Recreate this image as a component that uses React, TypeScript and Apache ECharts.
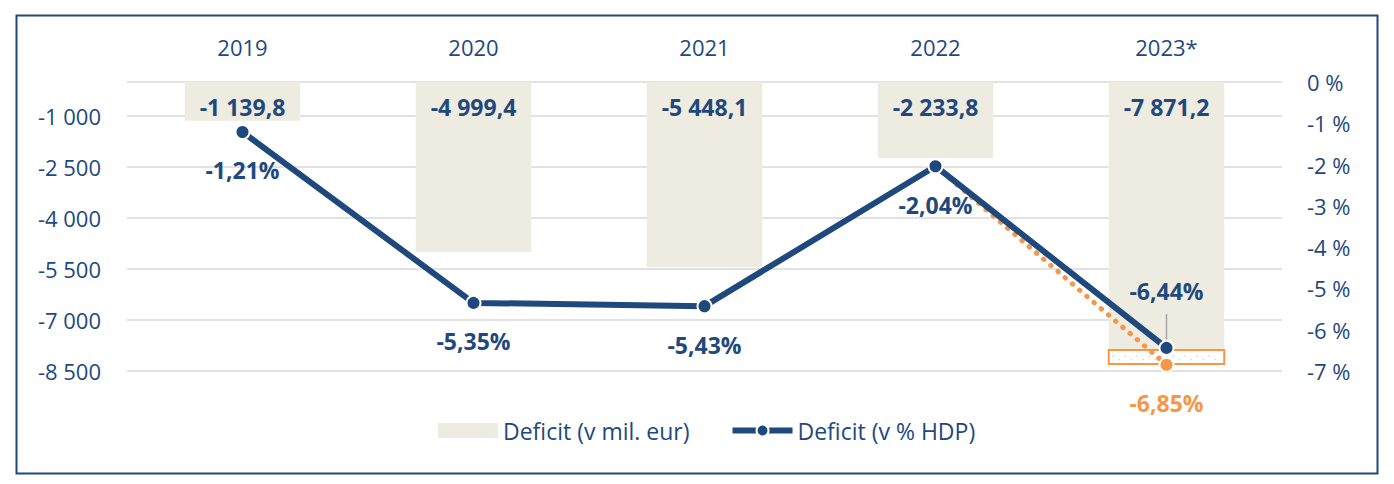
import React, { useEffect, useRef } from 'react';
import * as echarts from 'echarts';

const years = ['2019', '2020', '2021', '2022', '2023*'];
const deficitMil = [-1139.8, -4999.4, -5448.1, -2233.8, -7871.2];
const deficitPct = [-1.21, -5.35, -5.43, -2.04, -6.44];
const estimatePct: (number | null)[] = [null, null, null, -2.04, -6.85];
const leftTicks = [-8500, -7000, -5500, -4000, -2500, -1000, 0];
const leftLabelTicks = [-8500, -7000, -5500, -4000, -2500, -1000];
const highlightRange = [-6.49, -6.83];

const BLUE = '#1F497D';
const BEIGE = '#EEECE1';
const ORANGE = '#F79646';
const GRID = '#D9D9D9';
const FONT = "'Open Sans', 'Noto Sans', sans-serif";

function fmt(v: number, dec: number): string {
  const neg = v < 0 && Math.abs(v) > 1e-9;
  const s = Math.abs(v).toFixed(dec);
  const [i, d] = s.split('.');
  const ig = i.replace(/\B(?=(\d{3})+(?!\d))/g, ' ');
  return (neg ? '-' : '') + ig + (d ? ',' + d : '');
}

export default function App() {
  const ref = useRef<HTMLDivElement>(null);
  useEffect(() => {
    document.body.style.margin = '0';
    if (!ref.current) return;
    const chart = echarts.init(ref.current, null, { renderer: 'svg' });
    const lastIdx = years.length - 1;
    chart.setOption({
      animation: false,
      textStyle: { fontFamily: FONT },
      grid: { left: 127, right: 112, top: 82, bottom: 113, containLabel: false },
      xAxis: {
        type: 'category',
        position: 'top',
        data: years,
        axisLine: { show: false },
        axisTick: { show: false },
        axisLabel: { color: BLUE, fontSize: 22, margin: 24, fontFamily: FONT },
      },
      yAxis: [
        {
          type: 'value',
          min: -8500,
          max: 0,
          position: 'left',
          axisLine: { show: false },
          axisTick: { show: false, customValues: leftTicks },
          axisLabel: {
            customValues: leftLabelTicks,
            formatter: (v: number) => fmt(v, 0),
            color: BLUE,
            fontSize: 22,
            margin: 26,
            fontFamily: FONT,
          },
          splitLine: { show: true, lineStyle: { color: GRID, width: 1.5 } },
        },
        {
          type: 'value',
          min: -7,
          max: 0,
          interval: 1,
          position: 'right',
          axisLine: { show: false },
          axisTick: { show: false },
          splitLine: { show: false },
          axisLabel: {
            formatter: (v: number) => fmt(v, 0) + ' %',
            color: BLUE,
            fontSize: 22,
            margin: 25,
            fontFamily: FONT,
          },
        },
      ],
      legend: {
        top: 414,
        left: 433,
        itemWidth: 60,
        itemHeight: 15,
        itemGap: 40,
        textStyle: { color: BLUE, fontSize: 23, fontFamily: FONT },
        data: [
          { name: 'Deficit (v mil. eur)', icon: 'rect' },
          { name: 'Deficit (v % HDP)', lineStyle: { width: 6 } },
        ],
      },
      series: [
        {
          name: 'Deficit (v mil. eur)',
          type: 'bar',
          yAxisIndex: 0,
          data: deficitMil,
          barWidth: '50%',
          itemStyle: { color: BEIGE },
          z: 2,
          label: {
            show: true,
            position: 'insideTop',
            distance: 13,
            formatter: (p: any) => fmt(p.value, 1),
            color: BLUE,
            fontWeight: 'bold',
            fontSize: 23,
            fontFamily: FONT,
          },
        },
        {
          name: 'Odhad',
          type: 'line',
          yAxisIndex: 1,
          z: 4,
          data: estimatePct.map((v, i) => {
            if (v === null) return null;
            if (i === lastIdx)
              return {
                value: v,
                label: {
                  show: true,
                  position: 'bottom',
                  distance: 19,
                  formatter: (p: any) => fmt(p.value, 2) + '%',
                  color: ORANGE,
                  fontWeight: 'bold',
                  fontSize: 23,
                  fontFamily: FONT,
                },
              };
            return { value: v, symbol: 'none' };
          }),
          symbol: 'circle',
          symbolSize: 14,
          itemStyle: { color: ORANGE, borderColor: '#fff', borderWidth: 2 },
          lineStyle: { color: ORANGE, width: 5, type: [0.5, 9], cap: 'round' },
        },
        {
          name: 'Deficit (v % HDP)',
          type: 'line',
          yAxisIndex: 1,
          z: 5,
          data: deficitPct.map((v, i) => ({
            value: v,
            label: {
              show: true,
              position: i === lastIdx ? 'top' : 'bottom',
              distance: i === lastIdx ? 37 : 19,
              formatter: (p: any) => fmt(p.value, 2) + '%',
              color: BLUE,
              fontWeight: 'bold',
              fontSize: 23,
              fontFamily: FONT,
            },
          })),
          symbol: 'circle',
          symbolSize: 14,
          itemStyle: { color: BLUE, borderColor: '#fff', borderWidth: 2 },
          lineStyle: { color: BLUE, width: 6 },
        },
      ],
    });

    const p = chart.convertToPixel({ seriesIndex: 2 }, [lastIdx, deficitPct[lastIdx]]) as number[];
    const p0 = chart.convertToPixel({ seriesIndex: 2 }, [0, 0]) as number[];
    const p1 = chart.convertToPixel({ seriesIndex: 2 }, [1, 0]) as number[];
    const halfBar = (p1[0] - p0[0]) * 0.25;
    const rTop = (chart.convertToPixel({ seriesIndex: 2 }, [lastIdx, highlightRange[0]]) as number[])[1];
    const rBot = (chart.convertToPixel({ seriesIndex: 2 }, [lastIdx, highlightRange[1]]) as number[])[1];
    chart.setOption({
      graphic: [
        {
          type: 'rect',
          left: 14,
          top: 13,
          z: 0,
          silent: true,
          shape: { width: 1361, height: 458 },
          style: { fill: 'none', stroke: BLUE, lineWidth: 2 },
        },
        {
          type: 'rect',
          z: 3,
          silent: true,
          shape: { x: p[0] - halfBar, y: rTop, width: halfBar * 2, height: rBot - rTop },
          style: { fill: '#fff', stroke: ORANGE, lineWidth: 2 },
        },
        {
          type: 'line',
          z: 3,
          silent: true,
          shape: { x1: p[0] - halfBar + 4, y1: rTop + (rBot - rTop) * 0.45, x2: p[0] + halfBar - 4, y2: rTop + (rBot - rTop) * 0.45 },
          style: { stroke: ORANGE, lineWidth: 1, lineDash: [1, 11] },
        },
        {
          type: 'line',
          z: 3,
          silent: true,
          shape: { x1: p[0] - halfBar + 10, y1: rTop + (rBot - rTop) * 0.7, x2: p[0] + halfBar - 4, y2: rTop + (rBot - rTop) * 0.7 },
          style: { stroke: ORANGE, lineWidth: 1, lineDash: [1, 11] },
        },
        {
          type: 'line',
          z: 3,
          silent: true,
          shape: { x1: p[0], y1: p[1] - 34, x2: p[0], y2: p[1] - 8 },
          style: { stroke: '#A6A6A6', lineWidth: 1.5 },
        },
      ],
    });

    return () => chart.dispose();
  }, []);
  return <div ref={ref} style={{ width: 1394, height: 484 }} />;
}
